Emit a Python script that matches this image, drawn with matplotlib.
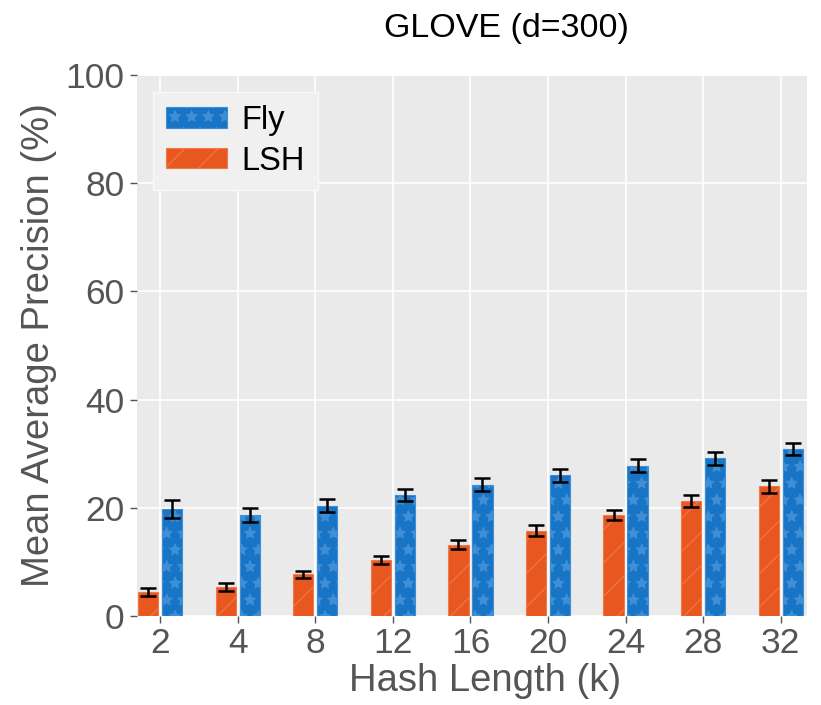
import matplotlib
matplotlib.use("Agg")
import matplotlib.pyplot as plt
import numpy as np

plt.rcParams['font.family'] = ['Liberation Sans', 'DejaVu Sans']
plt.rcParams['hatch.linewidth'] = 0.8

hash_lengths = ['2', '4', '8', '12', '16', '20', '24', '28', '32']
fly_mean = [19.8, 18.7, 20.4, 22.3, 24.3, 26.0, 27.8, 29.2, 30.9]
fly_err = [1.6, 1.3, 1.2, 1.1, 1.2, 1.2, 1.2, 1.2, 1.1]
lsh_mean = [4.4, 5.4, 7.7, 10.3, 13.2, 15.8, 18.7, 21.3, 24.0]
lsh_err = [0.7, 0.7, 0.7, 0.7, 0.8, 1.0, 0.9, 1.1, 1.2]

fly_color = '#1874c4'
lsh_color = '#e8571f'

fig = plt.figure(figsize=(8.21, 7.05), dpi=100)
ax = fig.add_axes([137/821, 1-616/705, (807-137)/821, (616-75)/705])
ax.set_facecolor('#eaeaea')
for s in ax.spines.values():
    s.set_visible(False)

x = np.arange(len(hash_lengths))
w = 0.26
off = 0.155
eb = dict(ecolor='black', elinewidth=1.8, capsize=6, capthick=1.8)

b_lsh = ax.bar(x - off, lsh_mean, w, yerr=lsh_err, color=lsh_color,
               edgecolor='#ef7a4b', hatch='/', linewidth=0.8, error_kw=eb,
               label='LSH', zorder=3)
b_fly = ax.bar(x + off, fly_mean, w, yerr=fly_err, color=fly_color,
               edgecolor='#3f8fd6', hatch='*', linewidth=0.8, error_kw=eb,
               label='Fly', zorder=3)

ax.set_xlim(-0.3, 8.34)
ax.set_ylim(0, 100)
ax.set_yticks([0, 20, 40, 60, 80, 100])
ax.set_xticks(x)
ax.set_xticklabels(hash_lengths)
ax.grid(True, color='white', linewidth=1.2, zorder=0)
ax.set_axisbelow(True)
ax.tick_params(axis='both', colors='#555555', labelsize=25.5, length=5,
               width=1, direction='out', pad=4)
ax.tick_params(axis='x', colors='#555555', length=5, pad=3)

ax.set_xlabel('Hash Length (k)', fontsize=27.5, color='#555555')
ax.xaxis.set_label_coords(0.52, -0.086)
ax.set_ylabel('Mean Average Precision (%)', fontsize=27.5, color='#555555', labelpad=6)

fig.text(506/821, 1-28/705, 'GLOVE (d=300)', fontsize=24.5, color='black',
         ha='center', va='center')

leg = ax.legend(handles=[b_fly, b_lsh], labels=['Fly', 'LSH'],
                loc='upper left', bbox_to_anchor=(0.024, 0.969), borderaxespad=0,
                fontsize=23.5, handlelength=1.85, handleheight=0.6, handletextpad=0.45,
                labelspacing=0.3, borderpad=0.4, frameon=True, fancybox=False)
leg.get_frame().set_facecolor('#f0f0f0')
leg.get_frame().set_edgecolor('#f8f8f8')
leg.get_frame().set_alpha(1)

fig.savefig('out.png', dpi=100)
